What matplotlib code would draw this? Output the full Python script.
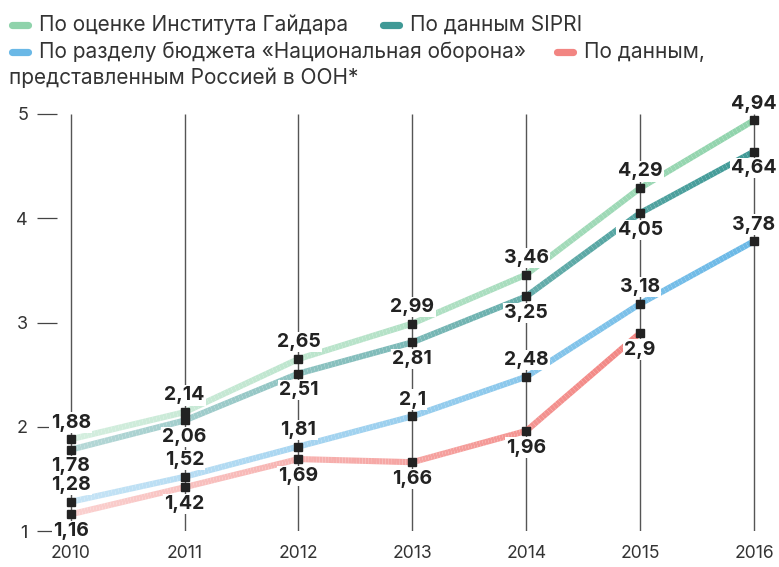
import numpy as np
import matplotlib
matplotlib.use("Agg")
import matplotlib.pyplot as plt
from matplotlib.collections import LineCollection
from matplotlib.colors import to_rgb
from matplotlib.lines import Line2D

years = [2010, 2011, 2012, 2013, 2014, 2015, 2016]
gaidar = [1.88, 2.14, 2.65, 2.99, 3.46, 4.29, 4.94]
sipri = [1.78, 2.06, 2.51, 2.81, 3.25, 4.05, 4.64]
budget = [1.28, 1.52, 1.81, 2.10, 2.48, 3.18, 3.78]
un_years = [2010, 2011, 2012, 2013, 2014, 2015]
un = [1.16, 1.42, 1.69, 1.66, 1.96, 2.90]

names = ["По оценке Института Гайдара", "По данным SIPRI",
         "По разделу бюджета «Национальная оборона»",
         "По данным,", "представленным Россией в ООН*"]
colors = ["#8fd3ab", "#3f9996", "#6ab8e6", "#f28582"]
label_side = [1, -1, 1, -1]  # 1 above, -1 below
yticks = [1, 2, 3, 4, 5]

FONT = "Inter"
plt.rcParams['font.family'] = [FONT, 'DejaVu Sans']

fig = plt.figure(figsize=(7.79, 5.67), dpi=100)
ax = fig.add_axes([57/779, (567-531)/567, 713/779, (531-114)/567])
ax.set_xlim(2010 - 13.7/113.9, 2016 + 16/113.9)
ax.set_ylim(1, 5)
for s in ax.spines.values():
    s.set_visible(False)

ax.set_yticks(yticks)
ax.set_yticklabels([str(v) for v in yticks])
ax.tick_params(axis='y', length=14.4, width=0.9, color='#444444', pad=6.5,
               labelsize=13, labelcolor='#333333')
ax.set_xticks(years)
ax.set_xticklabels([str(y) for y in years])
ax.tick_params(axis='x', length=0, pad=10, labelsize=12.6, labelcolor='#333333')

# vertical year lines
for y in years:
    ax.plot([y, y], [1, 5], color='#555555', lw=1.0, zorder=1, solid_capstyle='butt')

def gradient_line(xs, ys, color, n=200):
    xs = np.asarray(xs, float); ys = np.asarray(ys, float)
    xx = np.linspace(xs[0], xs[-1], n)
    yy = np.interp(xx, xs, ys)
    pts = np.column_stack([xx, yy]).reshape(-1, 1, 2)
    segs = np.concatenate([pts[:-1], pts[1:]], axis=1)
    c = np.array(to_rgb(color))
    t = np.linspace(0, 1, n - 1)[:, None]
    frac = 0.38 + 0.62 * t
    cols = c * frac + (1 - frac) * np.ones(3)
    lc = LineCollection(segs, colors=cols, linewidths=4.4, zorder=2, capstyle='butt')
    ax.add_collection(lc)

series = [(years, gaidar), (years, sipri), (years, budget), (un_years, un)]
for (xs, ys), col, side in zip(series, colors, label_side):
    gradient_line(xs, ys, col)
    ax.plot(xs, ys, ls='none', marker='s', ms=6, color='#222222', zorder=5, clip_on=False)
    for x, v in zip(xs, ys):
        txt = f"{v:g}".replace('.', ',')
        ax.annotate(txt, (x, v), xytext=(0, 12 * side), textcoords='offset points',
                    ha='center', va='center', fontsize=14, fontweight='bold',
                    color='#222222', zorder=4, annotation_clip=False,
                    bbox=dict(boxstyle='square,pad=0.06', fc='white', ec='none'))

# legend (manual)
LEG_FS = 15
def leg(xpx, ypx, col, text):
    fig.add_artist(Line2D([(xpx + 3)/779, (xpx + 19)/779], [1-ypx/567, 1-ypx/567],
                          color=col, lw=5.2, solid_capstyle='round', transform=fig.transFigure))
    fig.text((xpx + 30)/779, 1-ypx/567, text, fontsize=LEG_FS, color='#333333',
             va='center', ha='left')

leg(9, 25, colors[0], names[0])
leg(380, 25, colors[1], names[1])
leg(9, 52, colors[2], names[2])
leg(554, 52, colors[3], names[3])
fig.text(9/779, 1-78/567, names[4], fontsize=LEG_FS, color='#333333',
         va='center', ha='left')

fig.savefig("out.png", dpi=100, facecolor='white')
